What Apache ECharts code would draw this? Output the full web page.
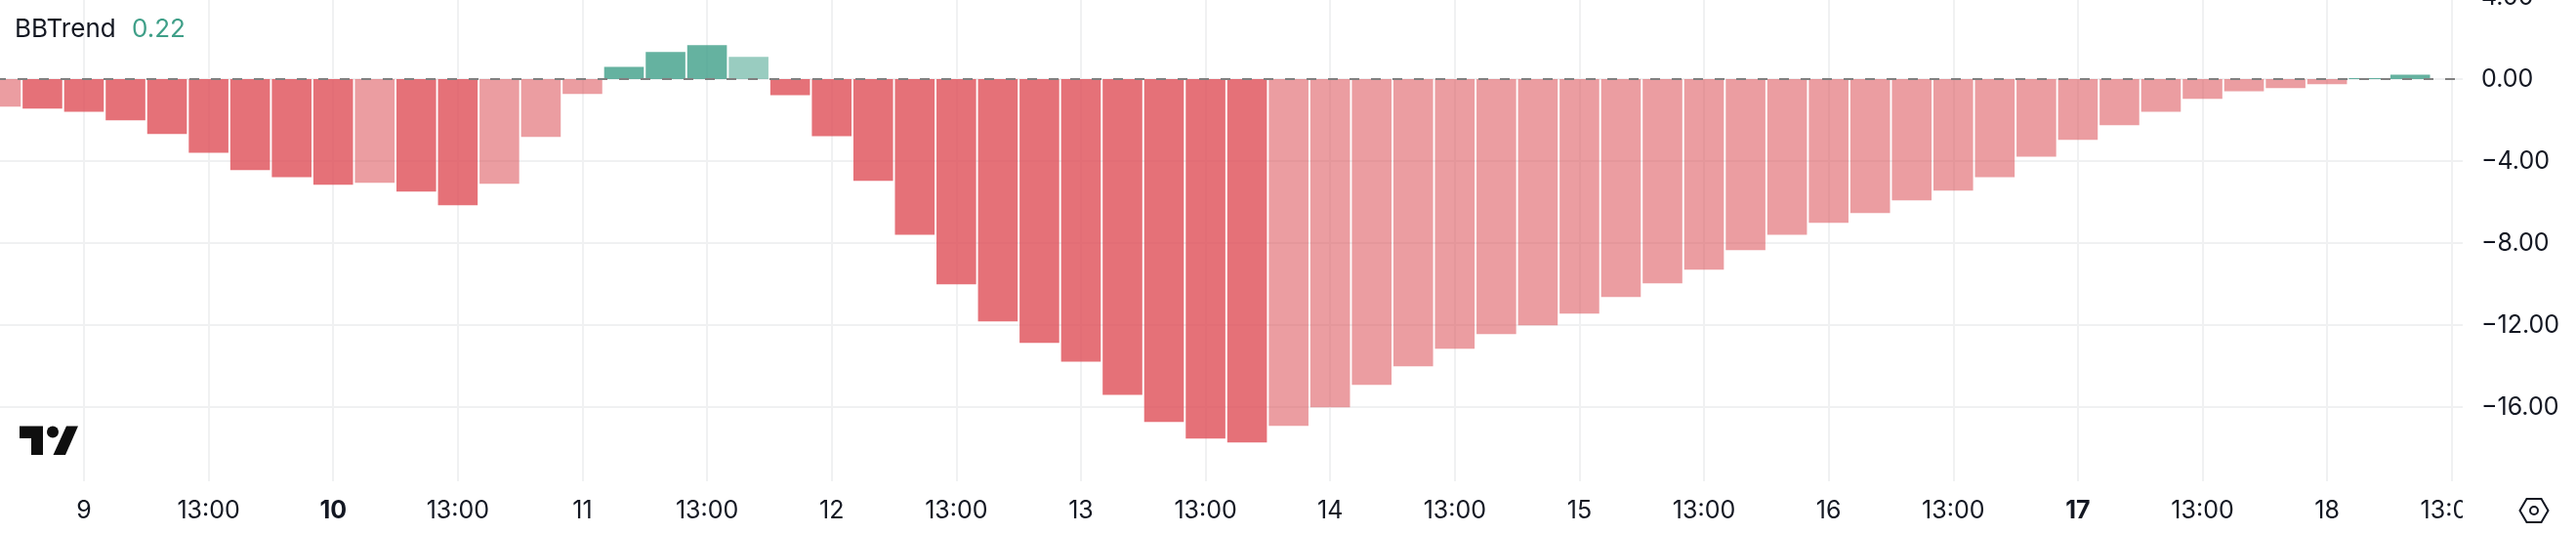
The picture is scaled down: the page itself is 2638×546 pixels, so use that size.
<!DOCTYPE html>
<html>
<head>
<meta charset="utf-8">
<style>html,body{margin:0;padding:0;background:#fff}#c{width:2638px;height:546px}</style>
<script src="https://cdn.jsdelivr.net/npm/echarts@6/dist/echarts.min.js"></script>
</head>
<body>
<div id="c"></div>
<script>
const seriesName = 'BBTrend';
const lastValueLabel = '0.22';
const bbtrend = [
  -1.35,-1.44,-1.59,-2.01,-2.68,-3.59,-4.44,-4.78,-5.16,-5.06,
  -5.49,-6.16,-5.11,-2.82,-0.73,0.60,1.32,1.65,1.08,-0.78,
  -2.78,-4.97,-7.59,-10.01,-11.82,-12.87,-13.78,-15.40,-16.73,-17.54,
  -17.73,-16.92,-16.01,-14.92,-14.01,-13.16,-12.44,-12.01,-11.44,-10.63,
  -9.97,-9.30,-8.35,-7.59,-7.01,-6.54,-5.92,-5.44,-4.78,-3.78,
  -2.97,-2.25,-1.59,-0.97,-0.59,-0.44,-0.25,0.05,0.22
];
const fadedBars = [0,9,12,13,14,18,31,32,33,34,35,36,37,38,39,40,41,42,43,44,45,46,47,48,49,50,51,52,53,54,55,56];
const timeTickBars = [2,5,8,11,14,17,20,23,26,29,32,35,38,41,44,47,50,53,56,59];
const timeTickLabels = ['9','13:00','10','13:00','11','13:00','12','13:00','13','13:00','14','13:00','15','13:00','16','13:00','17','13:00','18','13:00'];
const boldLabels = ['10','17'];
const valueTicks = [-16,-12,-8,-4,0,4];

const FONT = 'Inter';
const TXT = '#131722';
const barColor = (v,faded)=> v<0
  ? (faded ? 'rgba(219,80,88,0.56)' : 'rgba(222,77,86,0.8)')
  : (faded ? 'rgba(62,159,136,0.53)' : 'rgba(62,159,136,0.8)');

const chart = echarts.init(document.getElementById('c'), null, {renderer:'canvas'});
chart.setOption({
  animation:false,
  backgroundColor:'#fff',
  textStyle:{fontFamily:FONT},
  grid:{left:0, top:-3, width:2522, height:496, containLabel:false, outerBoundsMode:'none'},
  xAxis:{
    type:'value', min:-0.0212, max:59.264,
    axisLine:{show:false},
    axisTick:{show:false, customValues:timeTickBars},
    splitLine:{show:true, lineStyle:{color:'#f0f1f2', width:2}},
    axisLabel:{
      show:true, customValues:timeTickBars, margin:18, hideOverlap:false,
      showMinLabel:true, showMaxLabel:true,
      fontFamily:FONT, fontSize:25, color:TXT,
      formatter:(v)=>{
        const s = timeTickLabels[timeTickBars.indexOf(v)];
        return boldLabels.includes(s) ? `{b|${s}}` : s;
      },
      rich:{b:{fontFamily:FONT, fontSize:25, fontWeight:700, color:TXT}}
    }
  },
  yAxis:{
    type:'value', position:'right', min:-19.619, max:4,
    axisLine:{show:false},
    axisTick:{show:false, customValues:valueTicks},
    splitLine:{show:true, lineStyle:{color:'#f0f1f2', width:2}},
    axisLabel:{
      show:true, customValues:valueTicks, margin:19, hideOverlap:false,
      showMinLabel:true, showMaxLabel:true,
      padding:[4,0,0,0],
      fontFamily:FONT, fontSize:25, color:TXT,
      formatter:(v)=> (v<0?'\u2212':'')+Math.abs(v).toFixed(2)
    }
  },
  series:[{
    name:seriesName, type:'bar', barWidth:40.6, clip:true,
    data:bbtrend.map((v,i)=>({
      value:[i,v],
      itemStyle:{color: barColor(v, fadedBars.includes(i))}
    })),
    markLine:{
      silent:true, symbol:'none', animation:false,
      label:{show:false},
      lineStyle:{color:'#808080', width:2, type:[10,12], dashOffset:4, opacity:1},
      emphasis:{disabled:true},
      data:[{yAxis:0}]
    }
  }],
  graphic:[
    {type:'rect', z:50, shape:{x:2522,y:497,width:116,height:49}, style:{fill:'#fff'}},
    {type:'text', z:60, x:15, y:30, style:{text:seriesName, fontFamily:FONT, fontSize:26, fill:TXT, verticalAlign:'middle'}},
    {type:'text', z:60, x:135, y:30, style:{text:lastValueLabel, fontFamily:FONT, fontSize:26, fill:'#3f9f88', verticalAlign:'middle'}},
    {type:'polygon', z:60, shape:{points:[[20,436.5],[44,436.5],[44,466],[32,466],[32,449],[20,449]]}, style:{fill:'#0f0f0f'}},
    {type:'circle', z:60, shape:{cx:54,cy:442.5,r:6}, style:{fill:'#0f0f0f'}},
    {type:'polygon', z:60, shape:{points:[[68,436.5],[80,436.5],[67,466],[54.5,466]]}, style:{fill:'#0f0f0f'}},
    {type:'polygon', z:60, shape:{points:[[2580.5,523],[2587.5,511],[2602.5,511],[2609.5,523],[2602.5,535],[2587.5,535]]}, style:{fill:'none', stroke:TXT, lineWidth:2}},
    {type:'circle', z:60, shape:{cx:2595,cy:523,r:4}, style:{fill:'none', stroke:TXT, lineWidth:2}}
  ]
});
</script>
</body>
</html>
